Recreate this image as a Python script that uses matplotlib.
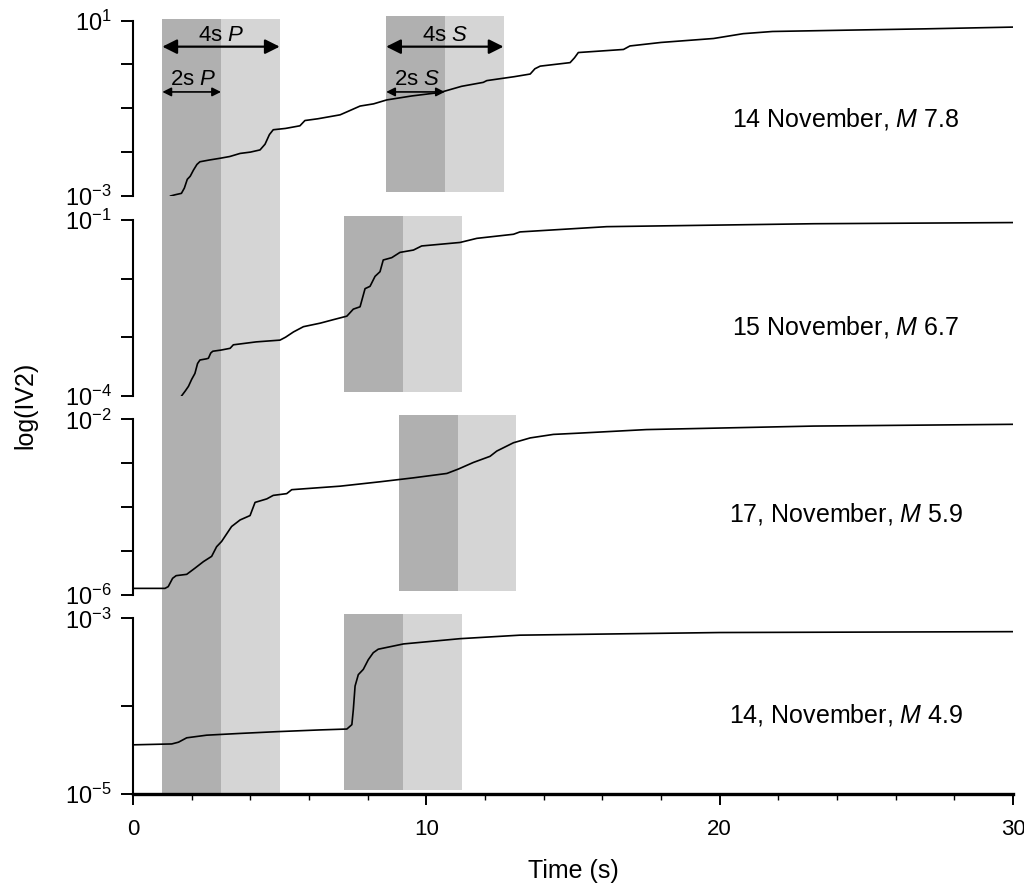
"""Cumulative |V2| curves for four events with P and S windows."""

import matplotlib
matplotlib.use('Agg')
import matplotlib.pyplot as plt
import matplotlib.transforms as mtransforms
from matplotlib.patches import Rectangle
import numpy as np

plt.rcParams['font.family'] = ['Liberation Sans', 'DejaVu Sans']
plt.rcParams['mathtext.fontset'] = 'custom'
plt.rcParams['mathtext.rm'] = 'Liberation Sans'
plt.rcParams['mathtext.it'] = 'Liberation Sans:italic'

# ---- data (time in s, log10 of |V2|) ----
labels = [r'14 November, $\mathit{M}$ 7.8', r'15 November, $\mathit{M}$ 6.7',
          r'17, November, $\mathit{M}$ 5.9', r'14, November, $\mathit{M}$ 4.9']
ylims = [(-3, 1), (-4, -1), (-6, -2), (-5, -3)]
s_start = [8.63, 7.2, 9.07, 7.2]
p_start = 1.0

t1 = [1.28, 1.45, 1.65, 1.75, 1.85, 1.95, 2.06, 2.18, 2.28, 2.6, 2.97, 3.3, 3.65, 4.0,
      4.33, 4.5, 4.65, 4.78, 5.2, 5.69, 5.86, 6.3, 7.06, 7.3, 7.74, 8.2, 8.65, 9.5,
      10.47, 11.2, 11.94, 12.06, 13.0, 13.54, 13.7, 13.88, 14.9, 15.05, 15.18, 16.72,
      16.94, 18.0, 19.79, 20.8, 21.8, 24.33, 27.0, 30.0]
v1 = [-3.00, -2.97, -2.94, -2.82, -2.62, -2.55, -2.41, -2.28, -2.22, -2.18, -2.14, -2.10,
      -2.03, -2.00, -1.95, -1.82, -1.60, -1.49, -1.46, -1.40, -1.28, -1.24, -1.15, -1.08,
      -0.95, -0.90, -0.81, -0.72, -0.64, -0.50, -0.41, -0.37, -0.28, -0.22, -0.10, -0.04,
      0.04, 0.15, 0.27, 0.34, 0.42, 0.50, 0.59, 0.70, 0.75, 0.78, 0.81, 0.85]

t2 = [1.66, 1.78, 1.89, 2.0, 2.11, 2.2, 2.28, 2.5, 2.57, 2.65, 2.72, 3.0, 3.31, 3.42, 4.2,
      5.01, 5.2, 5.47, 5.81, 6.38, 6.83, 7.29, 7.51, 7.74, 7.91, 8.08, 8.25, 8.42, 8.53,
      8.82, 9.1, 9.56, 9.84, 11.15, 11.72, 12.97, 13.19, 16.15, 23.2, 30.0]
v2 = [-4.00, -3.92, -3.84, -3.72, -3.62, -3.45, -3.39, -3.37, -3.36, -3.27, -3.24, -3.22,
      -3.19, -3.13, -3.08, -3.05, -3.00, -2.91, -2.82, -2.76, -2.70, -2.64, -2.52, -2.48,
      -2.17, -2.13, -1.96, -1.88, -1.68, -1.64, -1.55, -1.51, -1.44, -1.38, -1.31, -1.24,
      -1.20, -1.11, -1.06, -1.04]

t3 = [0.0, 1.09, 1.2, 1.35, 1.47, 1.83, 2.11, 2.4, 2.68, 2.85, 3.02, 3.36, 3.65, 3.99,
      4.16, 4.56, 4.78, 5.24, 5.41, 7.06, 8.42, 9.56, 10.7, 11.09, 11.6, 12.17, 12.4,
      12.97, 13.54, 14.33, 15.24, 17.5, 23.2, 30.0]
v3 = [-5.85, -5.85, -5.81, -5.62, -5.56, -5.53, -5.39, -5.24, -5.12, -4.90, -4.78, -4.44,
      -4.29, -4.19, -3.89, -3.81, -3.73, -3.69, -3.60, -3.52, -3.42, -3.33, -3.23, -3.13,
      -2.98, -2.84, -2.72, -2.53, -2.42, -2.34, -2.31, -2.23, -2.15, -2.11]

t4 = [0.0, 1.32, 1.55, 1.83, 2.51, 3.65, 4.9, 6.38, 7.29, 7.46, 7.51, 7.57, 7.68, 7.85,
      8.02, 8.19, 8.36, 9.22, 11.15, 13.19, 20.0, 30.0]
v4 = [-4.44, -4.43, -4.41, -4.36, -4.33, -4.31, -4.29, -4.27, -4.26, -4.21, -4.04, -3.77,
      -3.64, -3.58, -3.47, -3.39, -3.35, -3.29, -3.23, -3.19, -3.16, -3.15]

times = [t1, t2, t3, t4]
values = [v1, v2, v3, v4]

DARK = '#b0b0b0'
LIGHT = '#d5d5d5'

fig = plt.figure(figsize=(10.24, 8.88), dpi=100)
left, width, height = 0.1299, 0.8594, 0.1976
bottoms = [0.7793, 0.5544, 0.3300, 0.1059]
label_y = [0.44, 0.39, 0.46, 0.45]

axes = []
for i in range(4):
    ax = fig.add_axes([left, bottoms[i], width, height])
    ax.set_facecolor('none')
    ax.set_yscale('log')
    lo, hi = ylims[i]
    ax.set_ylim(10.0 ** lo, 10.0 ** hi)
    ax.set_xlim(0, 30)

    decades = list(range(lo, hi + 1))
    ax.set_yticks([10.0 ** d for d in decades])
    ax.set_yticklabels([rf'$10^{{{d}}}$' if d in (lo, hi) else '' for d in decades])
    ax.yaxis.set_minor_locator(matplotlib.ticker.NullLocator())
    ax.tick_params(axis='y', direction='out', length=8.5, width=1.4, pad=7, labelsize=17)

    for side in ('top', 'right'):
        ax.spines[side].set_visible(False)
    ax.spines['left'].set_linewidth(1.5)

    if i < 3:
        ax.spines['bottom'].set_visible(False)
        ax.set_xticks([])
    else:
        ax.spines['bottom'].set_linewidth(2.4)
        ax.set_xticks([0, 10, 20, 30])
        ax.set_xticks(np.arange(0, 31, 2), minor=True)
        ax.tick_params(axis='x', which='major', direction='out', length=8, width=1.4,
                       pad=10, labelsize=16)
        ax.tick_params(axis='x', which='minor', direction='out', length=4.5, width=1.0)
        ax.set_xlabel('Time (s)', fontsize=18, labelpad=14)

    # S-wave window (2 s dark + 2 s light)
    trans = mtransforms.blended_transform_factory(ax.transData, ax.transAxes)
    s0 = s_start[i]
    ax.add_patch(Rectangle((s0, 0.023), 2, 1.0, transform=trans, facecolor=DARK,
                           edgecolor='none', zorder=0, clip_on=False))
    ax.add_patch(Rectangle((s0 + 2, 0.023), 2, 1.0, transform=trans, facecolor=LIGHT,
                           edgecolor='none', zorder=0, clip_on=False))

    ax.plot(times[i], 10.0 ** np.array(values[i]), color='black', lw=1.2, zorder=3)
    ax.text(24.3, label_y[i], labels[i], transform=trans, fontsize=18,
            ha='center', va='center')
    axes.append(ax)

# P-wave window spanning all panels
ptrans = mtransforms.blended_transform_factory(axes[3].transData, fig.transFigure)
p_top = 1 - 19 / 888
p_bot = bottoms[3]
fig.add_artist(Rectangle((p_start, p_bot), 2, p_top - p_bot, transform=ptrans,
                         facecolor=DARK, edgecolor='none', zorder=-1))
fig.add_artist(Rectangle((p_start + 2, p_bot), 2, p_top - p_bot, transform=ptrans,
                         facecolor=LIGHT, edgecolor='none', zorder=-1))

# window arrows in the top panel
ax = axes[0]
trans = mtransforms.blended_transform_factory(ax.transData, ax.transAxes)
for x0, name in [(p_start, 'P'), (s_start[0], 'S')]:
    ax.annotate('', xy=(x0, 0.851), xytext=(x0 + 4, 0.851), xycoords=trans,
                arrowprops=dict(arrowstyle='<|-|>', color='black', lw=1.6,
                                mutation_scale=22, shrinkA=0, shrinkB=0))
    ax.text(x0 + 2, 0.917, rf'4s $\mathit{{{name}}}$', transform=trans, fontsize=16,
            ha='center', va='center')
    ax.annotate('', xy=(x0, 0.593), xytext=(x0 + 2, 0.593), xycoords=trans,
                arrowprops=dict(arrowstyle='<|-|>', color='black', lw=1.2,
                                mutation_scale=13, shrinkA=0, shrinkB=0))
    ax.text(x0 + 1.05, 0.661, rf'2s $\mathit{{{name}}}$', transform=trans, fontsize=16,
            ha='center', va='center')

fig.text(0.025, 0.544, 'log(IV2)', rotation=90, fontsize=18, ha='center', va='center')

plt.savefig('out.png', dpi=100)
plt.close()
